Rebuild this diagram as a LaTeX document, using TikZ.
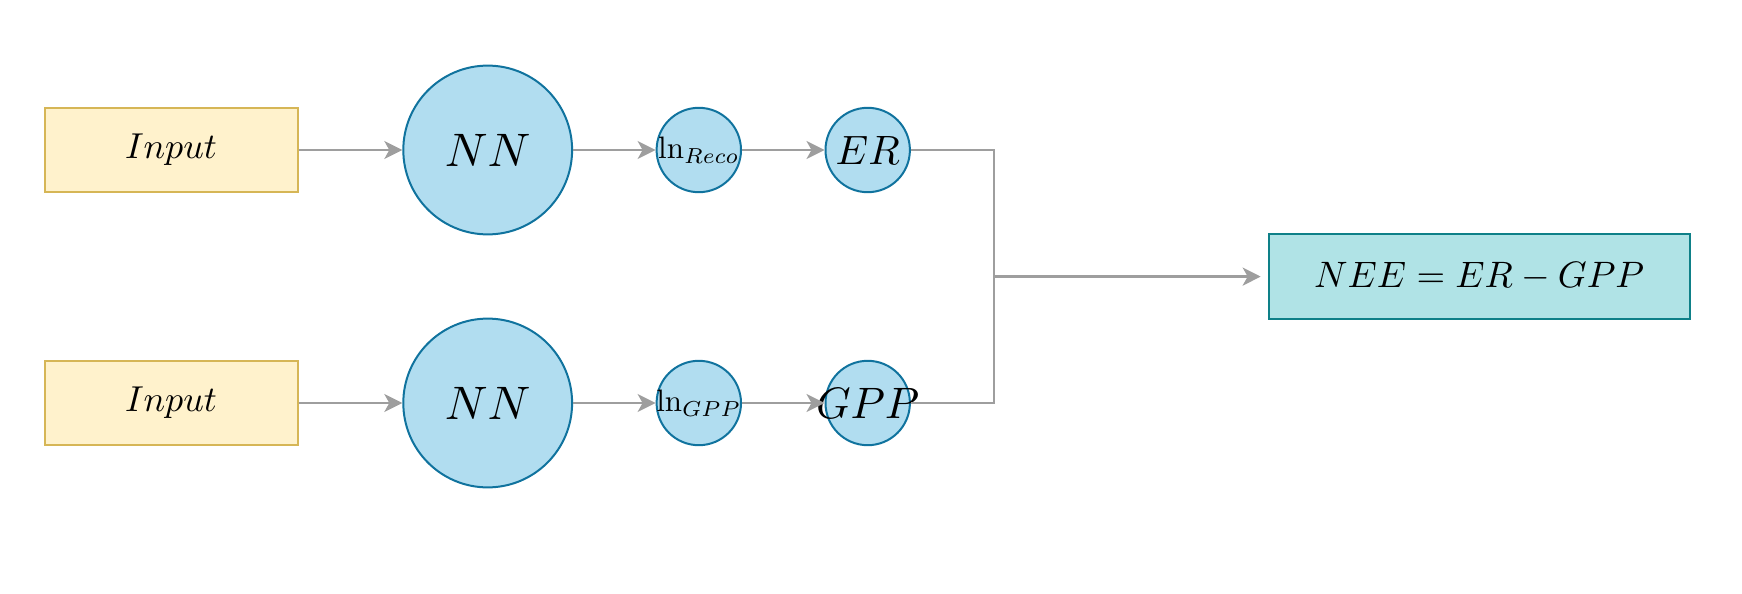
\documentclass[tikz,border=0pt]{standalone}
\usepackage{graphicx}
\usetikzlibrary{arrows.meta}
\definecolor{inFill}{HTML}{FFF2CC}
\definecolor{inDraw}{HTML}{D6B656}
\definecolor{cFill}{HTML}{B1DDF0}
\definecolor{cDraw}{HTML}{10739E}
\definecolor{tFill}{HTML}{B0E3E6}
\definecolor{tDraw}{HTML}{0E8088}
\definecolor{lineGray}{HTML}{9E9E9E}
\newcommand{\fs}[2]{\scalebox{#1}{#2}}
\tikzset{
  inbox/.style={draw=inDraw, fill=inFill, line width=2pt, minimum width=253pt, minimum height=84pt, inner sep=0pt},
  bigcirc/.style={circle, draw=cDraw, fill=cFill, line width=2pt, minimum size=168.8pt, inner sep=0pt},
  smallcirc/.style={circle, draw=cDraw, fill=cFill, line width=2pt, minimum size=84.4pt, inner sep=0pt},
  neebox/.style={draw=tDraw, fill=tFill, line width=2pt, minimum width=421pt, minimum height=84.4pt, inner sep=0pt},
  conn/.style={draw=lineGray, line width=2pt, -{Stealth[length=18pt, width=18pt, inset=5pt]}},
  plain/.style={draw=lineGray, line width=2pt},
  fat/.style={draw=lineGray, line width=3pt, -{Stealth[length=18pt, width=18pt, inset=5pt]}, shorten >=7pt}
}
\begin{document}
\begin{tikzpicture}[x=1pt, y=-1pt]
\useasboundingbox (0,0) rectangle (1742,594);
% top row
\node[inbox] (in1) at (171,150) {\fs{3.6}{$Input$}};
\node[bigcirc, label={center:\fs{4.7}{$NN$}}] (nn1) at (487.7,150) {};
\node[smallcirc, label={center:\fs{3.1}{$\ln_{Reco}$}}] (lr) at (698.8,150) {};
\node[smallcirc, label={center:\fs{4.1}{$ER$}}] (er) at (867.7,150) {};
% bottom row
\node[inbox] (in2) at (171,403) {\fs{3.6}{$Input$}};
\node[bigcirc, label={center:\fs{4.7}{$NN$}}] (nn2) at (487.7,403) {};
\node[smallcirc, label={center:\fs{3.1}{$\ln_{GPP}$}}] (lg) at (698.8,403) {};
\node[smallcirc, label={center:\fs{4.4}{$GPP$}}] (gpp) at (867.7,403) {};
% result
\node[neebox] (nee) at (1479.2,276.6) {\fs{3.68}{$NEE = ER - GPP$}};
% connectors
\draw[conn] (in1) -- (nn1);
\draw[conn] (nn1) -- (lr);
\draw[conn] (lr) -- (er);
\draw[conn] (in2) -- (nn2);
\draw[conn] (nn2) -- (lg);
\draw[conn] (lg) -- (gpp);
\coordinate (jt) at (994.3,150);
\coordinate (jb) at (994.3,403);
\coordinate (jm) at (994.3,276.6);
\draw[plain] (er.east) -- (jt) -- (jb) -- (gpp.east);
\draw[fat] (jm) -- (nee.west);
\end{tikzpicture}
\end{document}
